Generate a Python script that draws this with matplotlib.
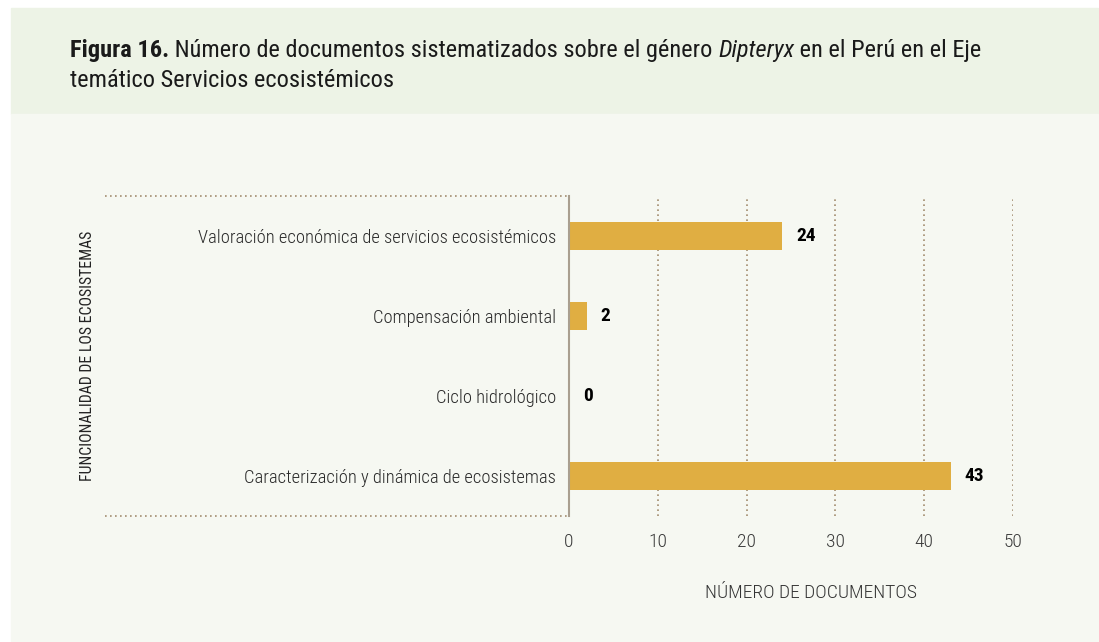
import matplotlib
matplotlib.use('Agg')
import matplotlib.pyplot as plt
from matplotlib import font_manager
from matplotlib.patches import Rectangle

# datos
categorias = ['Valoración económica de servicios ecosistémicos',
              'Compensación ambiental',
              'Ciclo hidrológico',
              'Caracterización y dinámica de ecosistemas']
documentos = [24, 2, 0, 43]
ticks_x = [0, 10, 20, 30, 40, 50]

titulo_l1 = [('Figura 16.', 'bold', 'normal'),
             (' Número de documentos sistematizados sobre el género ', 'normal', 'normal'),
             ('Dipteryx', 'normal', 'italic'),
             (' en el Perú en el Eje', 'normal', 'normal')]
titulo_l2 = 'temático Servicios ecosistémicos'
etiqueta_x = 'NÚMERO DE DOCUMENTOS'
etiqueta_y = 'FUNCIONALIDAD DE LOS ECOSISTEMAS'


def elegir_fuente(opciones):
    for f in opciones:
        try:
            font_manager.findfont(font_manager.FontProperties(family=f), fallback_to_default=False)
            return f
        except Exception:
            pass
    return 'DejaVu Sans'


fuente = elegir_fuente(['Roboto Condensed', 'Liberation Sans Narrow', 'Roboto'])
plt.rcParams['font.family'] = [fuente, 'DejaVu Sans']

W, H = 1099, 642
fig = plt.figure(figsize=(W / 100, H / 100), dpi=100)
fig.patch.set_facecolor('white')

# fondos: cabecera verde y panel claro
fig.add_artist(Rectangle((11 / W, 1 - 114 / H), (1098 - 11) / W, (114 - 8) / H,
                         transform=fig.transFigure, color='#edf3e6', zorder=0))
fig.add_artist(Rectangle((11 / W, 1 - 641 / H), (1098 - 11) / W, (641 - 114) / H,
                         transform=fig.transFigure, color='#f6f8f2', zorder=0))

# titulo por trozos (negrita / normal / cursiva)
renderer = fig.canvas.get_renderer()
x = 70 / W
for txt, peso, estilo in titulo_l1:
    t = fig.text(x, 1 - 57 / H, txt, fontsize=17.6, fontweight=peso, fontstyle=estilo,
                 color='#1a1a1a', va='baseline', ha='left')
    bb = t.get_window_extent(renderer=renderer)
    x += bb.width / W
fig.text(70 / W, 1 - 87 / H, titulo_l2, fontsize=17.6, color='#1a1a1a', va='baseline', ha='left')

# grafico de barras
ax = fig.add_axes([569 / W, 1 - 516 / H, 444 / W, 320 / H])
ax.set_facecolor('none')
pos = list(range(len(categorias)))
ax.barh(pos, documentos, height=0.35, color='#e0ae42', zorder=3)
ax.set_xlim(0, 50)
ax.set_ylim(3.5, -0.5)

for s in ['top', 'right', 'bottom']:
    ax.spines[s].set_visible(False)
ax.spines['left'].set_color('#a99f90')
ax.spines['left'].set_linewidth(1.5)
ax.spines['left'].set_zorder(4)

for t in ticks_x[1:]:
    ax.axvline(t, color='#a38d70', ls=(0, (1, 2)), lw=1.2, zorder=1)

# lineas punteadas arriba y abajo, hacia la izquierda
for yy in [0, 1]:
    ax.plot([-1.045, 0], [yy, yy], transform=ax.transAxes, clip_on=False,
            color='#a38d70', ls=(0, (1, 2)), lw=1.2)

ax.set_xticks(ticks_x)
ax.set_xticklabels([str(t) for t in ticks_x], fontsize=14, fontweight='light', color='#3a3a3a')
ax.set_yticks(pos)
ax.set_yticklabels(categorias, fontsize=13.3, fontweight='light', color='#2a2a2a')
ax.tick_params(axis='both', length=0)
ax.tick_params(axis='x', pad=12)
ax.tick_params(axis='y', pad=9.5)

for i, v in enumerate(documentos):
    ax.annotate(str(v), (v, i), xytext=(10, 0), textcoords='offset points',
                va='center', ha='left', fontsize=14, fontweight='bold', color='black')

fig.text(811 / W, 1 - 593 / H, etiqueta_x, fontsize=14, fontweight='light', color='#333333',
         ha='center', va='center')
fig.text(88 / W, 1 - 356 / H, etiqueta_y, fontsize=11.3, color='#222222',
         rotation=90, ha='center', va='center')

fig.savefig('out.png', dpi=100, facecolor=fig.get_facecolor())
